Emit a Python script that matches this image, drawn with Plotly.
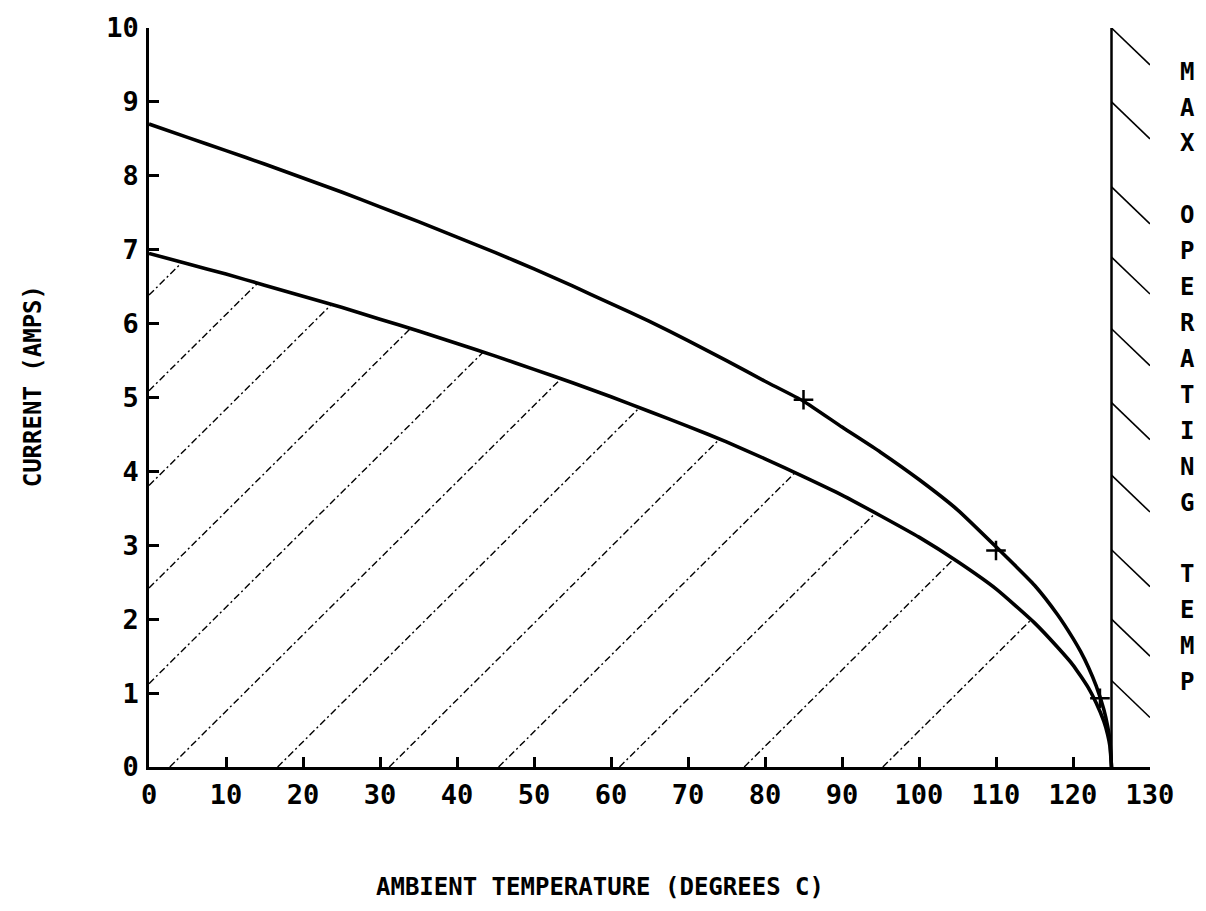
import numpy as np
import plotly.graph_objects as go

# Derating curves: current (A) versus ambient temperature (deg C)
temp_c = [0, 5, 10, 15, 20, 25, 30, 35, 40, 45, 50, 55, 60, 65, 70, 75, 80, 85,
          90, 95, 100, 105, 110, 115, 118, 120, 121, 122, 123, 124, 124.5, 124.8, 125]
upper_amps = [8.70, 8.52, 8.34, 8.16, 7.97, 7.78, 7.58, 7.38, 7.17, 6.96, 6.74,
              6.51, 6.27, 6.03, 5.77, 5.50, 5.22, 4.95, 4.60, 4.26, 3.89, 3.48,
              2.98, 2.46, 2.06, 1.74, 1.56, 1.35, 1.10, 0.78, 0.55, 0.35, 0.0]
lower_amps = [6.95, 6.81, 6.67, 6.52, 6.37, 6.22, 6.06, 5.90, 5.73, 5.56, 5.38,
              5.20, 5.01, 4.81, 4.61, 4.40, 4.17, 3.93, 3.68, 3.40, 3.11, 2.78,
              2.41, 1.95, 1.62, 1.38, 1.23, 1.07, 0.87, 0.62, 0.44, 0.28, 0.0]

# Plotted check points on the upper curve
mark_temp = [85, 110, 123.5]
mark_amps = [4.97, 2.93, 0.93]

# Safe operating area hatching: x-axis intercepts of the hatch family and its slope (A per deg C)
hatch_x0 = [-61.7, -49.2, -36.8, -23.4, -10.9, 2.7, 16.7, 31.2, 45.4, 61.1, 77.3, 95.3]
hatch_slope = 0.1035

# Maximum operating temperature boundary
max_temp = 125
boundary_amps = [0, 10]
edge_hatch_starts = [10, 9, 7.85, 6.9, 5.93, 4.93, 3.95, 2.94, 2.0, 1.17]
edge_hatch_dx = 5
edge_hatch_dy = 0.5

x_ticks = list(range(0, 131, 10))
y_ticks = list(range(0, 11))
right_label = "MAX OPERATING TEMP"

FONT = "DejaVu Sans Mono"

fig = go.Figure()

# hatch lines, clipped between the axes and the lower curve
dense_t = np.linspace(0, max_temp, 2501)
dense_lower = np.interp(dense_t, temp_c, lower_amps)
for x0 in hatch_x0:
    line_y = hatch_slope * (dense_t - x0)
    diff = dense_lower - line_y
    idx = np.where(diff <= 0)[0]
    if len(idx) == 0:
        continue
    t_top = dense_t[idx[0]]
    a_top = dense_lower[idx[0]]
    if x0 >= 0:
        t_bot, a_bot = x0, 0.0
    else:
        t_bot, a_bot = 0.0, -hatch_slope * x0
    fig.add_trace(go.Scatter(
        x=[t_bot, t_top], y=[a_bot, a_top], mode="lines",
        line=dict(color="black", width=1.4, dash="7px,3px,2px,3px"),
        hoverinfo="skip", showlegend=False))

# derating curves
for amps in (upper_amps, lower_amps):
    fig.add_trace(go.Scatter(
        x=temp_c, y=amps, mode="lines",
        line=dict(color="black", width=3.6, shape="spline", smoothing=0.5),
        showlegend=False))

# check marks
fig.add_trace(go.Scatter(
    x=mark_temp, y=mark_amps, mode="markers",
    marker=dict(symbol="cross-thin", size=14, line=dict(color="black", width=2.5)),
    showlegend=False))

# max temperature boundary and its hatching
fig.add_trace(go.Scatter(
    x=[max_temp, max_temp], y=boundary_amps, mode="lines",
    line=dict(color="black", width=2.5), showlegend=False))
for s in edge_hatch_starts:
    fig.add_trace(go.Scatter(
        x=[max_temp, max_temp + edge_hatch_dx], y=[s, s - edge_hatch_dy],
        mode="lines", line=dict(color="black", width=1.6),
        showlegend=False, hoverinfo="skip"))

# vertical side label, one letter per line
annotations = []
y_first = 9.41
y_step = 0.486
for k, ch in enumerate(right_label):
    if ch == " ":
        continue
    annotations.append(dict(
        x=1.037, xref="paper", y=y_first - k * y_step, yref="y",
        text=ch, showarrow=False, xanchor="center", yanchor="middle",
        font=dict(family=FONT, size=24, color="black", weight="bold")))

annotations.append(dict(
    x=0.4505, xref="paper", y=-0.162, yref="paper",
    text="AMBIENT TEMPERATURE (DEGREES C)", showarrow=False,
    xanchor="center", yanchor="middle",
    font=dict(family=FONT, size=24, color="black", weight="bold")))
annotations.append(dict(
    x=-0.115, xref="paper", y=0.515, yref="paper",
    text="CURRENT (AMPS)", showarrow=False, textangle=-90,
    xanchor="center", yanchor="middle",
    font=dict(family=FONT, size=24, color="black", weight="bold")))

axis_common = dict(
    showgrid=False, zeroline=False, showline=True, linecolor="black", linewidth=2.5,
    ticks="inside", ticklen=10, tickwidth=2.5, tickcolor="black",
    tickfont=dict(family=FONT, size=27, color="black", weight="bold"),
)

fig.update_layout(
    width=1206, height=911,
    margin=dict(l=149, r=56, t=22, b=144),
    paper_bgcolor="white", plot_bgcolor="white",
    xaxis=dict(range=[0, 130], tickvals=x_ticks, ticktext=[str(v) for v in x_ticks],
               ticklabelstandoff=2, **axis_common),
    yaxis=dict(range=[0, 10], tickvals=y_ticks, ticktext=[str(v) for v in y_ticks],
               ticklabelstandoff=2, **axis_common),
    annotations=annotations,
)

fig.write_html("out.html")
